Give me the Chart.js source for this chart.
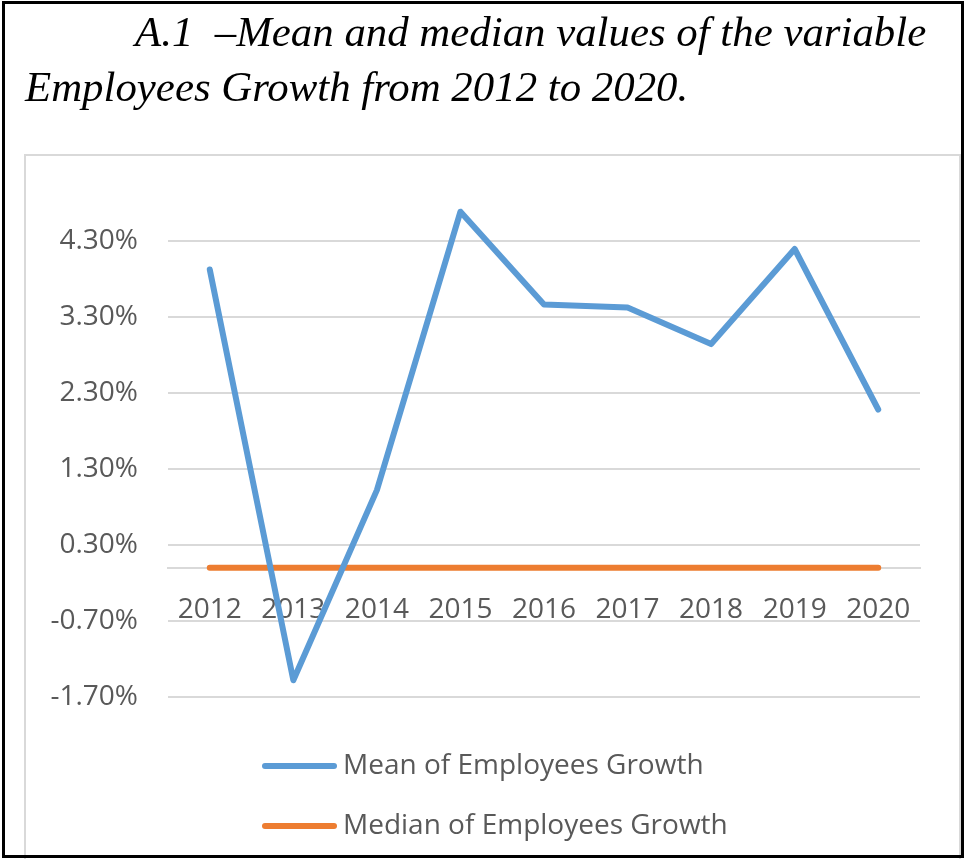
<!DOCTYPE html>
<html>
<head>
<meta charset="utf-8">
<script src="https://cdn.jsdelivr.net/npm/chart.js@4.4.1/dist/chart.umd.min.js"></script>
<style>
  html, body { margin: 0; padding: 0; background: #fff; }
  #wrap { width: 966px; height: 859px; position: relative; }
</style>
</head>
<body>
<div id="wrap"><canvas id="chart"></canvas></div>
<script>
// ---------- DATA ----------
const years = ["2012", "2013", "2014", "2015", "2016", "2017", "2018", "2019", "2020"];
const meanGrowth = [3.92, -1.48, 1.02, 4.68, 3.46, 3.42, 2.94, 4.19, 2.08];
const medianGrowth = [0.0, 0.0, 0.0, 0.0, 0.0, 0.0, 0.0, 0.0, 0.0];
const yTicks = [-1.7, -0.7, 0.3, 1.3, 2.3, 3.3, 4.3];
const titleLines = ["A.1  \u2013Mean and median values of the variable", "Employees Growth from 2012 to 2020."];

const textGray = "#595959";
const gridGray = "#d9d9d9";
const labelFont = "28px 'Open Sans'";

// ---------- FRAME + TITLE ----------
const framePlugin = {
  id: "frame",
  beforeDraw(chart) {
    const ctx = chart.ctx;
    ctx.save();
    ctx.fillStyle = "#fff";
    ctx.fillRect(0, 0, chart.width, chart.height);

    // inner light frame (open at the bottom)
    ctx.strokeStyle = gridGray;
    ctx.lineWidth = 2;
    ctx.beginPath();
    ctx.moveTo(25, 859);
    ctx.lineTo(25, 155);
    ctx.lineTo(960, 155);
    ctx.lineTo(960, 859);
    ctx.stroke();

    // title, slightly wider than the stock serif italic
    ctx.fillStyle = "#000";
    ctx.font = "italic 42px 'Liberation Serif'";
    ctx.textBaseline = "alphabetic";
    ctx.save();
    ctx.translate(135, 46);
    ctx.scale(1.02, 1);
    ctx.fillText(titleLines[0], 0, 0);
    ctx.restore();
    ctx.save();
    ctx.translate(25, 101);
    ctx.scale(1.02, 1);
    ctx.fillText(titleLines[1], 0, 0);
    ctx.restore();
    ctx.restore();
  },
  afterDraw(chart) {
    const ctx = chart.ctx;
    ctx.save();
    // legend, one row per series
    const rowY = [766, 826];
    chart.data.datasets.forEach((ds, i) => {
      ctx.strokeStyle = ds.borderColor;
      ctx.lineWidth = 6;
      ctx.lineCap = "round";
      ctx.beginPath();
      ctx.moveTo(265, rowY[i]);
      ctx.lineTo(334, rowY[i]);
      ctx.stroke();
      ctx.fillStyle = textGray;
      ctx.font = labelFont;
      ctx.textBaseline = "middle";
      ctx.fillText(ds.label, 343, rowY[i]);
    });

    // outer black border
    ctx.strokeStyle = "#000";
    ctx.lineWidth = 3;
    ctx.strokeRect(3.5, 2.5, 959, 854);
    ctx.restore();
  }
};

new Chart(document.getElementById("chart"), {
  type: "line",
  data: {
    labels: years,
    datasets: [
      {
        label: "Mean of Employees Growth",
        data: meanGrowth,
        borderColor: "#5b9bd5",
        borderWidth: 6,
        pointRadius: 0,
        borderCapStyle: "round",
        borderJoinStyle: "round",
        tension: 0
      },
      {
        label: "Median of Employees Growth",
        data: medianGrowth,
        borderColor: "#ed7d31",
        borderWidth: 6,
        pointRadius: 0,
        borderCapStyle: "round",
        borderJoinStyle: "round",
        tension: 0
      }
    ]
  },
  options: {
    responsive: true,
    maintainAspectRatio: false,
    animation: false,
    layout: { padding: { left: 30, right: 46, top: 195, bottom: 162 } },
    plugins: {
      legend: { display: false },
      tooltip: { enabled: false }
    },
    scales: {
      x: {
        position: { y: 0 },
        offset: true,
        grid: { display: false, drawTicks: false },
        border: { display: true, color: gridGray, width: 2 },
        ticks: { color: textGray, font: { family: "'Open Sans'", size: 28 }, padding: 26, maxRotation: 0, autoSkip: false }
      },
      y: {
        min: -1.7,
        max: 4.9,
        afterBuildTicks: scale => { scale.ticks = yTicks.map(v => ({ value: v })); },
        afterFit: scale => { scale.width = 138; },
        grid: { color: gridGray, lineWidth: 2, drawTicks: false },
        border: { display: false },
        ticks: {
          color: textGray,
          font: { family: "'Open Sans'", size: 28 },
          padding: 30,
          callback: v => v.toFixed(2) + "%"
        }
      }
    }
  },
  plugins: [framePlugin]
});
</script>
</body>
</html>
